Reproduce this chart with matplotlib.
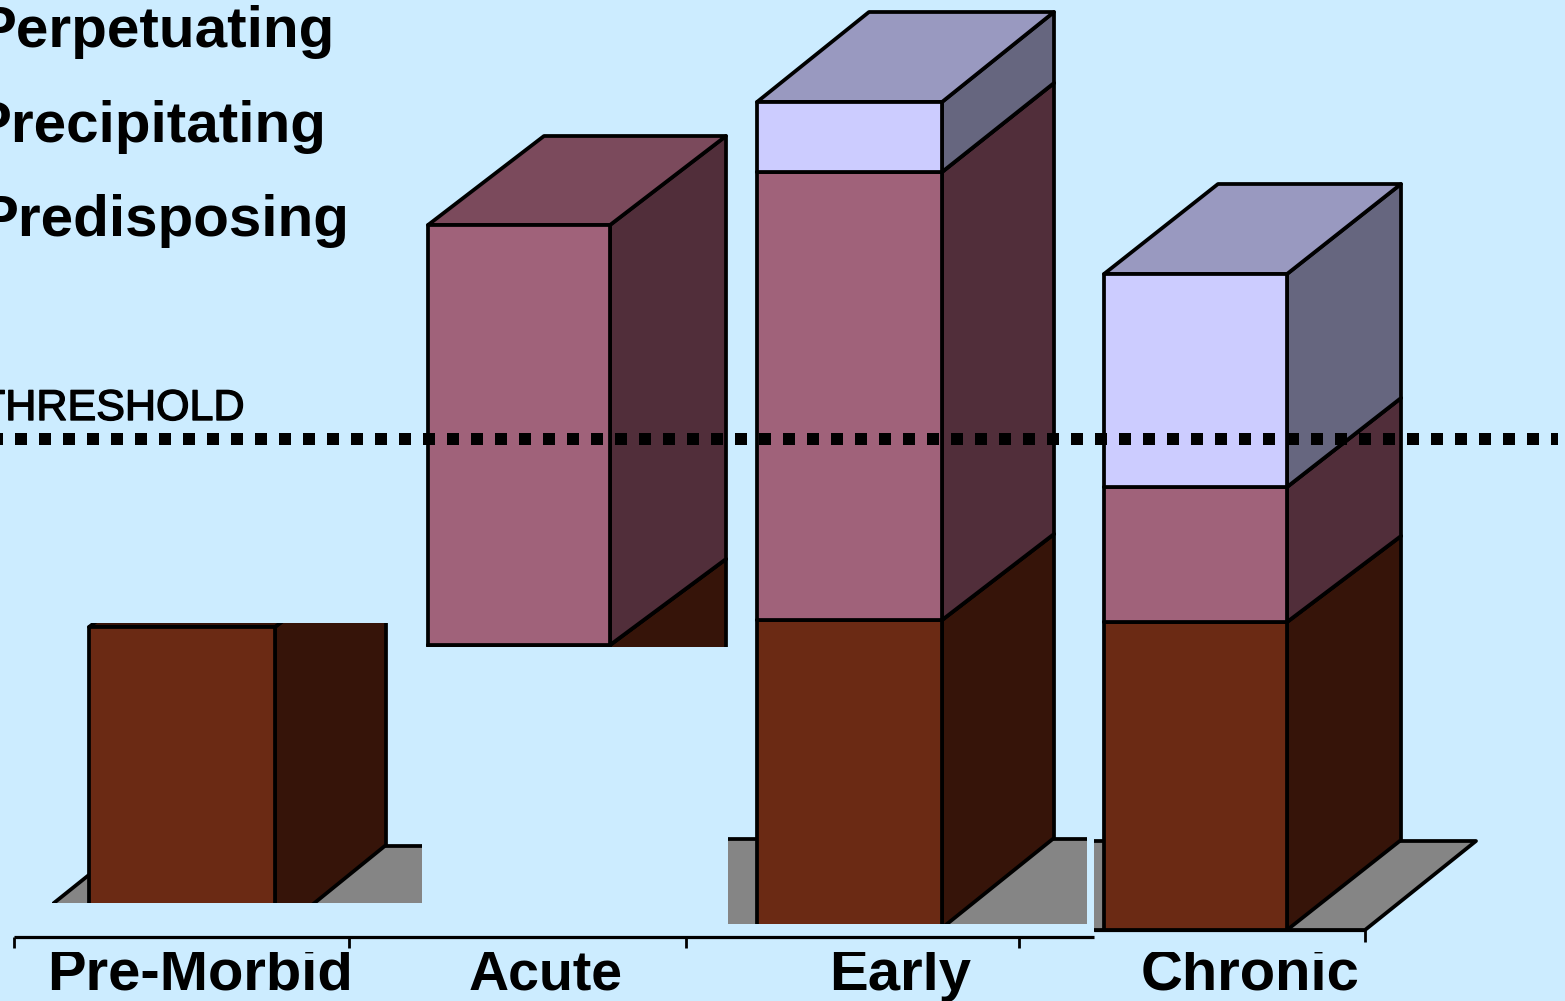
import matplotlib
matplotlib.use("Agg")
import matplotlib.pyplot as plt
import matplotlib.patheffects as pe
from matplotlib.patches import Polygon, Rectangle

plt.rcParams['font.family'] = ['Liberation Sans', 'DejaVu Sans']

categories = ["Pre-Morbid", "Acute", "Early", "Chronic"]
legend_names = ["Perpetuating", "Precipitating", "Predisposing"]

# stacked values, one list per factor
predisposing = [308, 308, 308, 308]
precipitating = [0, 420, 448, 135]
perpetuating = [0, 0, 70, 213]
threshold = 491

# each pasted panel sits at its own height on the slide
panel_shift = [-5, -23, 2, 0]

BG = "#CCECFF"
FACE = ["#6B2A14", "#A0627A", "#CCCCFF"]
SIDE = ["#361409", "#512E3A", "#66667F"]
TOP = ["#361409", "#7B4A5C", "#9999C0"]
FLOOR = "#858585"
EDGE = "black"
LW = 2.7

BASE_DY = 90
LEVEL_DY = [86, 89, 90]
BAR_LEFT = [89, 428, 757, 1104]
BAR_WIDTH = [186, 182, 185, 183]
BAR_DEPTH = [111, 116, 112, 114]

# panel windows: left, right, lower, upper, all in axis units
CLIPS = [(52, 422, 27, 307), (426, 728, 283, 930), (728, 1087, 6, 930), (1094, 1565, -71, 930)]
FLOOR_LEFT = 14
FLOOR_RIGHT = 1365

fig = plt.figure(figsize=(15.65, 10.01), dpi=100, facecolor=BG)
ax = fig.add_axes([0, 0, 1, 1])
ax.set_xlim(0, 1565)
ax.set_ylim(-71, 930)
ax.axis("off")


def box(x, w, d, y0, y1, level, clip):
    # one stacked block: side, top and front faces
    dy0 = LEVEL_DY[level - 1] if level > 0 else BASE_DY
    dy1 = LEVEL_DY[level]
    faces = [
        ([(x + w, y0), (x + w + d, y0 + dy0), (x + w + d, y1 + dy1), (x + w, y1)], SIDE[level]),
        ([(x, y1), (x + d, y1 + dy1), (x + w + d, y1 + dy1), (x + w, y1)], TOP[level]),
        ([(x, y0), (x + w, y0), (x + w, y1), (x, y1)], FACE[level]),
    ]
    for pts, col in faces:
        p = Polygon(pts, closed=True, facecolor=col, edgecolor=EDGE, linewidth=LW, joinstyle="round", zorder=3 + level)
        ax.add_patch(p)
        p.set_clip_path(clip)


for i in range(len(categories)):
    l, r, b, t = CLIPS[i]
    clip = Rectangle((l, b), r - l, t - b, transform=ax.transData)
    base = panel_shift[i]

    # floor of the 3D plot
    floor = Polygon([(FLOOR_LEFT, base), (FLOOR_RIGHT, base), (FLOOR_RIGHT + 111, base + 89), (FLOOR_LEFT + 111, base + 89)],
                    closed=True, facecolor=FLOOR, edgecolor=EDGE, linewidth=LW, joinstyle="round", zorder=2)
    ax.add_patch(floor)
    floor.set_clip_path(clip)

    y = base
    for level, vals in enumerate([predisposing, precipitating, perpetuating]):
        if vals[i] > 0:
            box(BAR_LEFT[i], BAR_WIDTH[i], BAR_DEPTH[i], y, y + vals[i], level, clip)
            y += vals[i]

# category axis, the last panel sits a little higher
tick_x = [14, 349, 686, 1019]
ax.plot([14, 1094], [-7, -7], color=EDGE, lw=2.3, solid_capstyle="butt", zorder=6)
ax.plot([1094, 1365], [0, 0], color=EDGE, lw=2.3, solid_capstyle="butt", zorder=6)
ax.vlines(tick_x, -18, -7, color=EDGE, lw=2, zorder=6)
ax.vlines([1365], -12, 0, color=EDGE, lw=2, zorder=6)

label_x = [200, 546, 900, 1250]
label_size = [41.8, 40, 41.8, 41.8]
label_clip = Rectangle((0, -71), 1565, 49, transform=ax.transData)
for x, name, size in zip(label_x, categories, label_size):
    t = ax.text(x, -60, name, ha="center", va="baseline", fontsize=size, fontweight="bold", color="black", zorder=7)
    t.set_clip_path(label_clip)
    t.set_clip_on(True)

legend_x = [-23, -28, -21]
legend_y = [883, 788.5, 694.5]
for name, x, y in zip(legend_names, legend_x, legend_y):
    ax.text(x, y, name, ha="left", va="baseline", fontsize=42, fontweight="bold", color="black", zorder=7)

ax.text(-21, 510, "THRESHOLD", ha="left", va="baseline", fontsize=31, color="black", zorder=7,
        path_effects=[pe.withStroke(linewidth=1.0, foreground="black")])

# dotted threshold line, the offset lines the dots up at the left edge
ax.plot([0, 1558], [threshold, threshold], color="black", lw=8.64, linestyle=(0.75, (1, 1)),
        dash_capstyle="butt", zorder=8)

fig.savefig("out.png", dpi=100, facecolor=BG)
